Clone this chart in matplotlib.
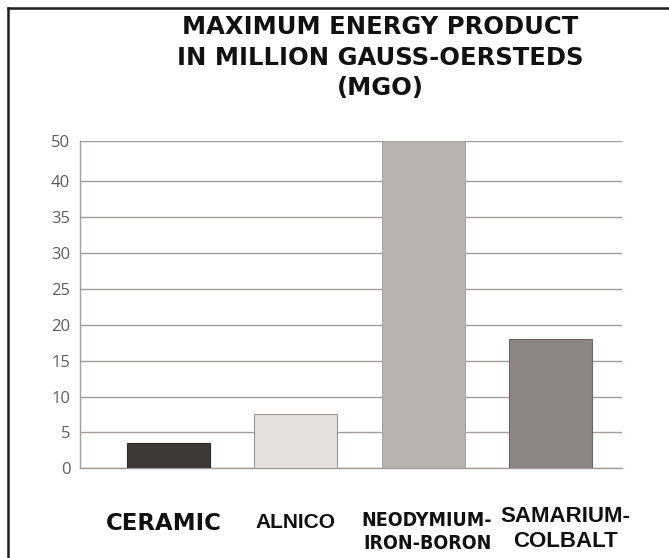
import numpy as np
import matplotlib
matplotlib.use("Agg")
import matplotlib.pyplot as plt
from matplotlib.lines import Line2D
from matplotlib.transforms import offset_copy

# Data
categories = ["CERAMIC", "ALNICO", "NEODYMIUM-\nIRON-BORON", "SAMARIUM-\nCOLBALT"]
mgo_values = [3.5, 7.5, 50, 18]
y_ticks = [0, 5, 10, 15, 20, 25, 30, 35, 40, 50]
title_lines = ["MAXIMUM ENERGY PRODUCT", "IN MILLION GAUSS-OERSTEDS", "(MGO)"]

# Styling
bar_colors = ["#3d3937", "#e4e1df", "#b9b2af", "#8e8684"]
bar_edges = ["#2e2a28", "#9a9492", "#aaa29f", "#6e6664"]
grid_color = "#a39c99"
W, H = 669, 558

# The top band (40..50) of the value axis is drawn compressed
BREAK_AT, COMPRESS = 40.0, 0.56


def fwd(y):
    y = np.asarray(y, dtype=float)
    return np.where(y <= BREAK_AT, y, BREAK_AT + (y - BREAK_AT) * COMPRESS)


def inv(u):
    u = np.asarray(u, dtype=float)
    return np.where(u <= BREAK_AT, u, BREAK_AT + (u - BREAK_AT) / COMPRESS)


fig = plt.figure(figsize=(W / 100, H / 100), dpi=100)
fig.patch.set_facecolor("white")

ax = fig.add_axes([80 / W, (H - 468.3) / H, 542 / W, (468.3 - 141) / H])
ax.set_yscale("function", functions=(fwd, inv))

x = np.arange(len(categories))
ax.bar(x, mgo_values, width=0.65, color=bar_colors, edgecolor=bar_edges,
       linewidth=0.8, zorder=3)

ax.set_xlim(-0.691, 3.559)
ax.set_ylim(0, 50)
ax.set_yticks(y_ticks)
ax.set_yticklabels([str(t) for t in y_ticks], fontfamily="Open Sans",
                   fontsize=12, color="#5e5e5e")
ax.set_xticks([])
ax.tick_params(axis="y", length=0, pad=7)
ax.set_yticks([40], minor=True)
ax.tick_params(axis="y", which="minor", direction="in", length=4.5,
               width=1.0, color="#8a8280")

ax.yaxis.grid(True, color=grid_color, linewidth=1.0)
ax.set_axisbelow(True)
for side in ("top", "right"):
    ax.spines[side].set_visible(False)
ax.spines["left"].set_color(grid_color)
ax.spines["left"].set_linewidth(1.0)
ax.spines["bottom"].set_color(grid_color)
ax.spines["bottom"].set_linewidth(1.0)

# Category labels under the bars
label_fonts = [
    dict(family=["DejaVu Sans"], size=16.5, stretch="normal"),
    dict(family=["Liberation Sans"], size=15, stretch="normal"),
    dict(family=["DejaVu Sans"], size=14, stretch="condensed"),
    dict(family=["Liberation Sans"], size=16, stretch="normal"),
]
label_center_px = [523, 523, 532, 529]
label_shift_px = [-4, 0, 4, 15]
pos = ax.get_position()
for xi, name, font, cy, dx in zip(x, categories, label_fonts,
                                  label_center_px, label_shift_px):
    ax_y = (H - cy - pos.y0 * H) / (pos.height * H)
    tr = offset_copy(ax.get_xaxis_transform(), fig=fig, x=dx * 0.72, y=0,
                     units="points")
    ax.text(xi, ax_y, name, transform=tr, ha="center", va="center",
            fontweight="bold", fontfamily=font["family"], fontsize=font["size"],
            fontstretch=font["stretch"], color="#111111", linespacing=1.3,
            clip_on=False)

# Title block
title_baselines = [34.3, 65.0, 95.0]
for line, by in zip(title_lines, title_baselines):
    fig.text(380 / W, 1 - by / H, line, ha="center", va="baseline",
             fontfamily="DejaVu Sans", fontweight="bold", fontsize=17.5,
             color="#111111")

# Frame around the figure (top and left edges)
fig.add_artist(Line2D([8 / W, 8 / W], [0, 1 - 8 / H], transform=fig.transFigure,
                      color="#1e1e1e", linewidth=1.8, solid_capstyle="projecting"))
fig.add_artist(Line2D([8 / W, 1], [1 - 8 / H, 1 - 8 / H], transform=fig.transFigure,
                      color="#1e1e1e", linewidth=1.8, solid_capstyle="projecting"))

fig.savefig("out.png", dpi=100, facecolor="white")
